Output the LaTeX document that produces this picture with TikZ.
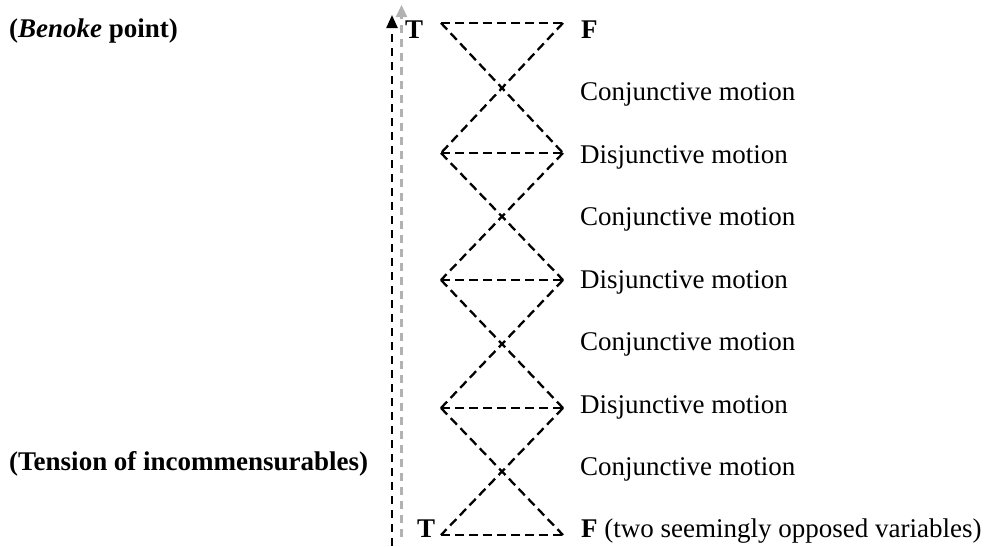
\documentclass[tikz,border=0pt]{standalone}
\usepackage{fontspec}
\setmainfont{Liberation Serif}
\usetikzlibrary{arrows.meta}
\begin{document}
\begin{tikzpicture}[x=1pt,y=-1pt,
  lab/.style={anchor=base west,inner sep=0pt,font=\fontsize{27}{32}\selectfont},
  blab/.style={lab,font=\fontsize{27}{32}\selectfont\bfseries},
  zz/.style={line width=2.3pt,dash pattern=on 9pt off 5pt},
  axisb/.style={line width=2.3pt,dash pattern=on 8pt off 6pt,-{Triangle[width=11pt,length=13pt]}},
  axisg/.style={axisb,draw=black!30,-{Triangle[width=11pt,length=12pt,fill=black!30]}}]
\useasboundingbox (0,0) rectangle (984,546);
% zigzag points
\foreach \i/\y in {0/23,1/153,2/280,3/408,4/535}{
  \coordinate (L\i) at (441,\y);
  \coordinate (R\i) at (563,\y);
}
\foreach \i in {0,...,4}{\draw[zz] (L\i) -- (R\i);}
\foreach \i/\j in {0/1,1/2,2/3,3/4}{
  \draw[zz] (L\i) -- (R\j);
  \draw[zz] (R\i) -- (L\j);
}
% axes
\coordinate (gb) at (401.5,537);
\coordinate (gt) at (401.5,5);
\coordinate (bb) at (392,546);
\coordinate (bt) at (392,15);
\draw[axisg] (gb) -- (gt);
\draw[axisb] (bb) -- (bt);
% labels
\node[blab] (T1) at (405,38) {T};
\node[blab] (F1) at (581,38) {F};
\node[blab] (T2) at (417,537) {T};
\node[lab] (F2) at (581,537) {\textbf{F} (two seemingly opposed variables)};
\node[lab] (c1) at (580,100) {Conjunctive motion};
\node[lab] (d1) at (580,163) {Disjunctive motion};
\node[lab] (c2) at (580,225) {Conjunctive motion};
\node[lab] (d2) at (580,288) {Disjunctive motion};
\node[lab] (c3) at (580,350) {Conjunctive motion};
\node[lab] (d3) at (580,413) {Disjunctive motion};
\node[lab] (c4) at (580,475) {Conjunctive motion};
\node[blab] (bp) at (9,37) {(\textit{Benoke} point)};
\node[blab] (ti) at (9,470) {(Tension of incommensurables)};
\end{tikzpicture}
\end{document}
